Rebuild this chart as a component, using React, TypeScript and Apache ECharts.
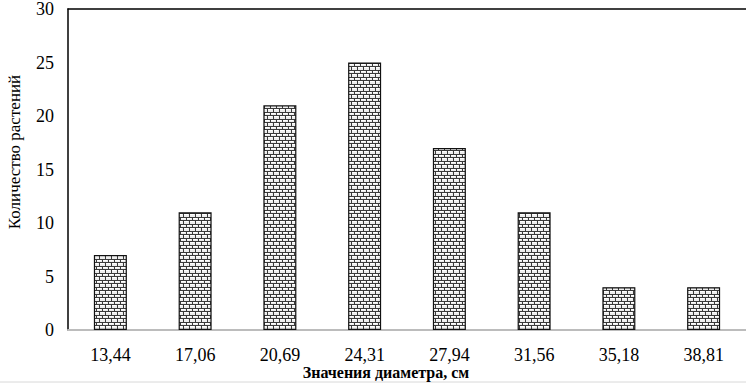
import React, { useEffect, useRef } from "react";
import * as echarts from "echarts";

const categories = ["13,44", "17,06", "20,69", "24,31", "27,94", "31,56", "35,18", "38,81"];
const counts = [7, 11, 21, 25, 17, 11, 4, 4];
const yTicks = { min: 0, max: 30, interval: 5 };
const xTitle = "Значения диаметра, см";
const yTitle = "Количество растений";

function makeBrick(): HTMLCanvasElement {
  const c = document.createElement("canvas");
  c.width = 12;
  c.height = 7;
  const g = c.getContext("2d")!;
  g.fillStyle = "#eeeeee";
  g.fillRect(0, 0, 12, 7);
  g.fillStyle = "#ffffff";
  g.fillRect(1, 1, 4, 1);
  g.fillRect(7, 1, 4, 1);
  g.fillRect(0, 4, 2, 1);
  g.fillRect(4, 4, 4, 1);
  g.fillRect(10, 4, 2, 1);
  g.fillStyle = "#3a3a3a";
  g.fillRect(0, 0, 12, 1);
  g.fillRect(0, 3, 12, 1);
  g.fillRect(0, 1, 1, 2);
  g.fillRect(6, 1, 1, 2);
  g.fillRect(3, 4, 1, 3);
  g.fillRect(9, 4, 1, 3);
  return c;
}

export default function App() {
  const ref = useRef<HTMLDivElement>(null);
  useEffect(() => {
    const chart = echarts.init(ref.current!, null, { renderer: "svg" });
    const brick = makeBrick();
    const font = "Times New Roman, Liberation Serif, DejaVu Serif, serif";
    chart.setOption({
      animation: false,
      backgroundColor: "#ffffff",
      textStyle: { fontFamily: font },
      grid: { left: 68, top: 8, width: 682, height: 322, containLabel: false },
      xAxis: [
        {
          type: "category",
          data: categories,
          position: "bottom",
          axisLine: { lineStyle: { color: "#bcbcbc", width: 2 } },
          axisTick: { show: false },
          axisLabel: { color: "#000", fontFamily: font, fontSize: 18, margin: 16 },
        },
        {
          type: "category",
          data: categories,
          position: "top",
          axisLine: { lineStyle: { color: "#000", width: 1.5 } },
          axisTick: { show: false },
          axisLabel: { show: false },
        },
      ],
      yAxis: {
        type: "value",
        min: yTicks.min,
        max: yTicks.max,
        interval: yTicks.interval,
        axisLine: { show: true, lineStyle: { color: "#000", width: 1.5 } },
        axisTick: { show: false },
        splitLine: { show: false },
        axisLabel: { color: "#000", fontFamily: font, fontSize: 18, margin: 14 },
      },
      graphic: [
        {
          type: "line",
          shape: { x1: 0, y1: 382, x2: 746, y2: 382 },
          style: { stroke: "#d8d8d8", lineWidth: 1 },
        },
        {
          type: "text",
          x: 386,
          y: 372,
          style: {
            text: xTitle,
            fill: "#000",
            font: "bold 16px " + font,
            align: "center",
            verticalAlign: "middle",
          },
        },
        {
          type: "text",
          x: 14,
          y: 152,
          rotation: Math.PI / 2,
          style: {
            text: yTitle,
            fill: "#000",
            font: "17px " + font,
            align: "center",
            verticalAlign: "middle",
          },
        },
      ],
      series: [
        {
          type: "bar",
          data: counts,
          barWidth: 33,
          itemStyle: {
            color: { image: brick, repeat: "repeat" } as any,
            borderColor: "#111",
            borderWidth: 1.2,
          },
        },
      ],
    });
    return () => chart.dispose();
  }, []);
  return (
    <div
      ref={ref}
      style={{ position: "fixed", left: 0, top: 0, width: 746, height: 385, background: "#fff" }}
    />
  );
}
